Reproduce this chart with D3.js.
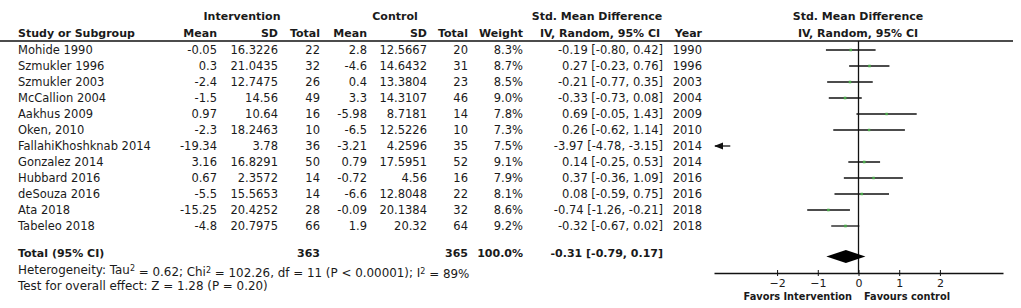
<!DOCTYPE html>
<html>
<head>
<meta charset="utf-8">
<script src="https://cdn.jsdelivr.net/npm/d3@7"></script>
<style>
  body { margin: 0; background: #fff; }
  svg text { font-family: "DejaVu Sans", sans-serif; fill: #1a1a1a; }
  .bold { font-weight: bold; }
</style>
</head>
<body>
<svg id="chart" width="1021" height="308"></svg>
<script>
// Data
const studies = ['Mohide 1990', 'Szmukler 1996', 'Szmukler 2003', 'McCallion 2004', 'Aakhus 2009', 'Oken, 2010',
    'FallahiKhoshknab 2014', 'Gonzalez 2014', 'Hubbard 2016', 'deSouza 2016', 'Ata 2018', 'Tabeleo 2018'];
const intMean = [-0.05, 0.3, -2.4, -1.5, 0.97, -2.3, -19.34, 3.16, 0.67, -5.5, -15.25, -4.8];
const intSD = [16.3226, 21.0435, 12.7475, 14.56, 10.64, 18.2463, 3.78, 16.8291, 2.3572, 15.5653, 20.4252, 20.7975];
const intTotal = [22, 32, 26, 49, 16, 10, 36, 50, 14, 14, 28, 66];
const ctlMean = [2.8, -4.6, 0.4, 3.3, -5.98, -6.5, -3.21, 0.79, -0.72, -6.6, -0.09, 1.9];
const ctlSD = [12.5667, 14.6432, 13.3804, 14.3107, 8.7181, 12.5226, 4.2596, 17.5951, 4.56, 12.8048, 20.1384, 20.32];
const ctlTotal = [20, 31, 23, 46, 14, 10, 35, 52, 16, 22, 32, 64];
const weights = [8.3, 8.7, 8.5, 9.0, 7.8, 7.3, 7.5, 9.1, 7.9, 8.1, 8.6, 9.2];
const smd = [-0.19, 0.27, -0.21, -0.33, 0.69, 0.26, -3.97, 0.14, 0.37, 0.08, -0.74, -0.32];
const ciLow = [-0.80, -0.23, -0.77, -0.73, -0.05, -0.62, -4.78, -0.25, -0.36, -0.59, -1.26, -0.67];
const ciHigh = [0.42, 0.76, 0.35, 0.08, 1.43, 1.14, -3.15, 0.53, 1.09, 0.75, -0.21, 0.02];
const years = [1990, 1996, 2003, 2004, 2009, 2010, 2014, 2014, 2016, 2016, 2018, 2018];

const totalInt = 363;
const totalCtl = 365;
const totalWeight = 100.0;
const pooled = { est: -0.31, lo: -0.79, hi: 0.17 };
const axisTicks = [-2, -1, 0, 1, 2];
const axisDomain = [-3.55, 3.55];

const heterogeneity = ['Heterogeneity: Tau', '2', ' = 0.62; Chi', '2', ' = 102.26, df = 11 (P < 0.00001); I', '2', ' = 89%'];
const overallTest = 'Test for overall effect: Z = 1.28 (P = 0.20)';

const svg = d3.select('#chart');
// plain hyphen for negatives, like the original table
const f2 = v => d3.format('.2f')(v).replace('\u2212', '-');
const f1 = v => d3.format('.1f')(v).replace('\u2212', '-');

const yScale = d3.scalePoint().domain(studies).range([50, 226]);
const xScale = d3.scaleLinear().domain(axisDomain).range([714, 1003]);

function cell(x, y, txt, anchor = 'start', bold = false, size = 11.5) {
    return svg.append('text')
        .attr('x', x)
        .attr('y', y)
        .attr('dy', '0.36em')
        .attr('text-anchor', anchor)
        .attr('class', bold ? 'bold' : null)
        .style('font-size', size + 'px')
        .text(txt);
}

// Headers
cell(242, 16, 'Intervention', 'middle', true, 11);
cell(395, 16, 'Control', 'middle', true, 11);
cell(597, 16, 'Std. Mean Difference', 'middle', true, 11);
cell(858, 16, 'Std. Mean Difference', 'middle', true, 11);
cell(18, 33, 'Study or Subgroup', 'start', true, 11);
cell(217, 33, 'Mean', 'end', true, 11);
cell(278, 33, 'SD', 'end', true, 11);
cell(320, 33, 'Total', 'end', true, 11);
cell(367, 33, 'Mean', 'end', true, 11);
cell(427, 33, 'SD', 'end', true, 11);
cell(468, 33, 'Total', 'end', true, 11);
cell(523, 33, 'Weight', 'end', true, 11);
cell(600, 33, 'IV, Random, 95% CI', 'middle', true, 11);
cell(702, 33, 'Year', 'end', true, 11);
cell(858, 33, 'IV, Random, 95% CI', 'middle', true, 11);

svg.append('line')
    .attr('x1', 0).attr('x2', 1013)
    .attr('y1', 41).attr('y2', 41)
    .attr('stroke', '#111').attr('stroke-width', 1.4);

// Study rows
studies.forEach((s, i) => {
    const y = yScale(s);
    cell(18, y, s);
    cell(217, y, String(intMean[i]), 'end');
    cell(278, y, String(intSD[i]), 'end');
    cell(320, y, String(intTotal[i]), 'end');
    cell(367, y, String(ctlMean[i]), 'end');
    cell(427, y, String(ctlSD[i]), 'end');
    cell(468, y, String(ctlTotal[i]), 'end');
    cell(523, y, f1(weights[i]) + '%', 'end');
    cell(663, y, `${f2(smd[i])} [${f2(ciLow[i])}, ${f2(ciHigh[i])}]`, 'end');
    cell(702, y, String(years[i]), 'end');
});

// Total row
const totalY = 253;
cell(18, totalY, 'Total (95% CI)', 'start', true, 11);
cell(320, totalY, String(totalInt), 'end', true, 11);
cell(468, totalY, String(totalCtl), 'end', true, 11);
cell(523, totalY, f1(totalWeight) + '%', 'end', true, 11);
cell(663, totalY, `${f2(pooled.est)} [${f2(pooled.lo)}, ${f2(pooled.hi)}]`, 'end', true, 11);

// Heterogeneity text with superscripts
const het = svg.append('text')
    .attr('x', 18).attr('y', 270).attr('dy', '0.36em')
    .style('font-size', '11.9px');
heterogeneity.forEach((part, i) => {
    const sup = i % 2 === 1;
    het.append('tspan')
        .attr('dy', sup ? '-0.35em' : (i > 0 ? '0.35em' : null))
        .style('font-size', sup ? '8px' : null)
        .text(part);
});
cell(18, 286, overallTest, 'start', false, 11.9);

// Forest plot
const plot = svg.append('g').attr('class', 'forest');

// zero line
plot.append('line')
    .attr('x1', xScale(0)).attr('x2', xScale(0))
    .attr('y1', 41).attr('y2', 273)
    .attr('stroke', '#111').attr('stroke-width', 1.3);

svg.append('defs').append('marker')
    .attr('id', 'arrow')
    .attr('viewBox', '0 0 10 10')
    .attr('refX', 9).attr('refY', 5)
    .attr('markerWidth', 7).attr('markerHeight', 7)
    .attr('orient', 'auto')
    .append('path')
    .attr('d', 'M0,1 L10,5 L0,9 Z')
    .attr('fill', '#111');

studies.forEach((s, i) => {
    const y = yScale(s);
    const [d0, d1] = axisDomain;
    const lo = Math.max(ciLow[i], d0);
    const hi = Math.min(ciHigh[i], d1);
    const line = plot.append('line')
        .attr('y1', y).attr('y2', y)
        .attr('stroke', '#111').attr('stroke-width', 1.3);
    if (ciLow[i] < d0) {
        // off the scale: arrow pointing to the left edge
        line.attr('x1', xScale(hi)).attr('x2', xScale(lo) + 1)
            .attr('marker-end', 'url(#arrow)');
    } else {
        line.attr('x1', xScale(lo)).attr('x2', xScale(hi));
    }
    if (smd[i] >= d0 && smd[i] <= d1) {
        const sz = 1.5 + weights[i] * 0.12;
        plot.append('rect')
            .attr('x', xScale(smd[i]) - sz / 2)
            .attr('y', y - sz / 2)
            .attr('width', sz).attr('height', sz)
            .attr('fill', '#4aa84a');
    }
});

// pooled diamond
const dy = 6.5;
plot.append('path')
    .attr('d', `M${xScale(pooled.lo)},${totalY + 3.5} L${xScale(pooled.est)},${totalY + 3.5 - dy} L${xScale(pooled.hi)},${totalY + 3.5} L${xScale(pooled.est)},${totalY + 3.5 + dy} Z`)
    .attr('fill', '#000');

// axis
const axisY = 273;
const axis = plot.append('g')
    .attr('transform', `translate(0,${axisY})`)
    .call(d3.axisBottom(xScale).tickValues(axisTicks).tickSizeOuter(0).tickSizeInner(3).tickFormat(d3.format('d')));
axis.select('.domain').attr('stroke', '#111').attr('stroke-width', 1.3);
axis.selectAll('.tick line').attr('y1', -3).attr('y2', 3).attr('stroke', '#111');
axis.selectAll('.tick text')
    .attr('y', 6)
    .style('font-family', '"DejaVu Sans", sans-serif')
    .style('font-size', '11px')
    .attr('fill', '#1a1a1a');

cell(852, 296, 'Favors Intervention', 'end', true, 9.8);
cell(864, 296, 'Favours control', 'start', true, 9.8);
</script>
</body>
</html>
